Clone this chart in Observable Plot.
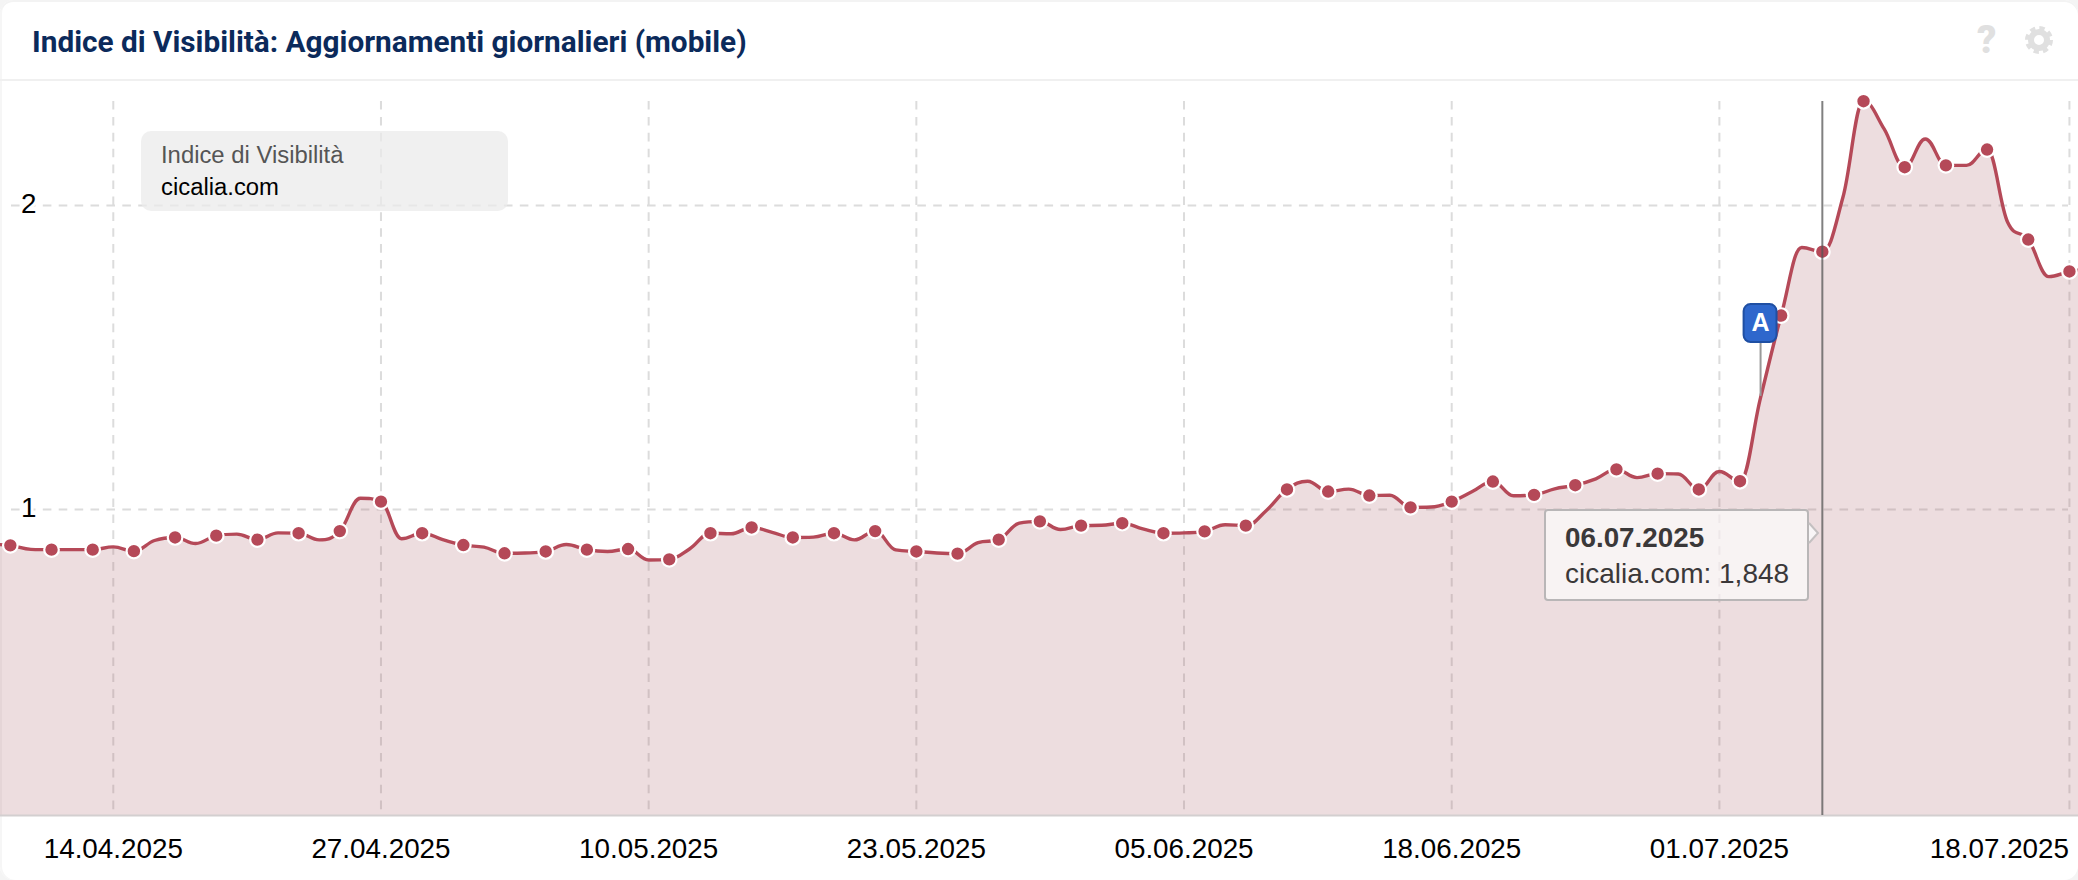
<!DOCTYPE html>
<html lang="it">
<head>
<meta charset="utf-8">
<title>Indice di Visibilità</title>
<script src="https://cdn.jsdelivr.net/npm/d3@7"></script>
<script src="https://cdn.jsdelivr.net/npm/@observablehq/plot@0.6"></script>
<style>
  html, body { margin: 0; padding: 0; background: #f4f4f4; }
  #panel { position: relative; width: 2078px; height: 880px; background: #fff; border-radius: 14px; overflow: hidden; box-shadow: inset 0 2px 0 #f3f3f3, inset 2px 0 0 #f6f6f6; font-family: "Liberation Sans", Arial, sans-serif; }
  #header { position: absolute; left: 0; top: 0; width: 100%; height: 81px; box-sizing: border-box; border-bottom: 2px solid #f0f0f0; }
  #title { position: absolute; left: 32px; top: 25px; margin: 0; font: 700 29.75px/33px Roboto, sans-serif; color: #0b2a5b; white-space: nowrap; }
  #help { position: absolute; left: 1977px; top: 21px; font: 900 38px/38px Roboto, sans-serif; color: #e0e0e0; }
  #gear { position: absolute; left: 2024px; top: 25px; }
  #chart { position: absolute; left: 0; top: 81px; }
  #chart svg { display: block; }
  #legend { position: absolute; left: 141px; top: 131px; width: 367px; height: 80px; border-radius: 10px; background: rgba(235,235,235,.75); font-size: 23.85px; }
  #legend div { position: absolute; left: 20px; white-space: nowrap; }
  #tooltip { position: absolute; left: 1544px; top: 509px; width: 265px; height: 92px; box-sizing: border-box; border: 2px solid #b9b6b7; border-radius: 4px; background: rgba(255,255,255,.63); color: #3b3839; font-size: 28px; }
  #tooltip div { position: absolute; left: 19px; white-space: nowrap; }
  #arrow { position: absolute; left: 1807px; top: 521px; }
</style>
</head>
<body>
<div id="panel">
  <div id="header">
    <h1 id="title">Indice di Visibilità: Aggiornamenti giornalieri (mobile)</h1>
    <div id="help">?</div>
    <svg id="gear" width="30" height="30" viewBox="0 0 30 30"><circle cx="15" cy="15" r="8" fill="none" stroke="#e0e0e0" stroke-width="6"/><circle cx="15" cy="15" r="11.8" fill="none" stroke="#e0e0e0" stroke-width="4.4" stroke-dasharray="5.2 4.07"/></svg>
  </div>
  <div id="chart"></div>
  <div id="legend"><div style="top:9.5px;color:#555">Indice di Visibilità</div><div style="top:41.5px;color:#000">cicalia.com</div></div>
  <div id="tooltip"><div style="top:11px;font-weight:700;font-size:27.8px">06.07.2025</div><div style="top:47px">cicalia.com: 1,848</div></div>
  <svg id="arrow" width="16" height="26" viewBox="0 0 16 26"><polygon points="2,2 11,12 2,22" fill="#f8f5f6"/><polyline points="2,2 11,12 2,22" fill="none" stroke="#c4c0c1" stroke-width="2"/></svg>
</div>
<script>
const startDate = Date.UTC(2025, 3, 8);
const visibility = [
  0.885, 0.882, 0.869, 0.868, 0.868, 0.868, 0.877, 0.863, 0.898, 0.908, 0.888, 0.914, 0.919,
  0.901, 0.923, 0.922, 0.900, 0.929, 1.037, 1.026, 0.904, 0.922, 0.901, 0.883, 0.876, 0.856,
  0.857, 0.862, 0.885, 0.868, 0.862, 0.870, 0.834, 0.836, 0.871, 0.922, 0.920, 0.941, 0.925,
  0.908, 0.909, 0.922, 0.900, 0.929, 0.867, 0.862, 0.857, 0.855, 0.891, 0.901, 0.955, 0.961,
  0.934, 0.947, 0.948, 0.955, 0.936, 0.922, 0.923, 0.928, 0.950, 0.947, 0.997, 1.066, 1.093,
  1.059, 1.067, 1.046, 1.047, 1.007, 1.008, 1.026, 1.059, 1.092, 1.045, 1.048, 1.068, 1.080,
  1.101, 1.132, 1.105, 1.118, 1.117, 1.066, 1.125, 1.093, 1.368, 1.638, 1.862, 1.848, 2.027,
  2.343, 2.252, 2.126, 2.219, 2.132, 2.132, 2.184, 1.945, 1.888, 1.766, 1.783, 1.790
];
const xTickLabels = ["14.04.2025", "27.04.2025", "10.05.2025", "23.05.2025", "05.06.2025", "18.06.2025", "01.07.2025", "18.07.2025"];
const yTicks = [1, 2];
const hoverDate = "06.07.2025";
const flagDate = "03.07.2025";
const flagLabel = "A";
const flagStemValue = 1.372;
const flagBox = [1.549, 1.674];
const flagHalfDays = 0.8;
const plotTopValue = 2.4079;
const baselineValue = -0.00658;
const xDomain = [new Date("2025-04-08T12:32:00Z"), new Date("2025-07-18T10:34:00Z")];

const parseDay = d3.utcParse("%d.%m.%Y");
const formatDay = d3.utcFormat("%d.%m.%Y");
const series = visibility.map((value, i) => ({ date: d3.utcDay.offset(new Date(startDate), i), value, i }));
const markers = series.filter(d => d.i % 2 === 1);
const xTicks = xTickLabels.map(parseDay);
const hour = 3600000;
const flagCenter = parseDay(flagDate);

// Spline with longer handles, flattened so it does not run past neighbouring points.
function clampedSpline(context) {
  let area = NaN, pts = [];
  return {
    areaStart() { area = 0; },
    areaEnd() { area = NaN; },
    lineStart() { pts = []; },
    point(x, y) { pts.push([+x, +y]); },
    lineEnd() {
      const k = 1.5, den = 2.5;
      let prevRight = null;
      pts.forEach(([x, y], i) => {
        const last = pts[i - 1], next = pts[i + 1];
        let lx = x, ly = y, rx = x, ry = y;
        if (last && next) {
          lx = (k * x + last[0]) / den; ly = (k * y + last[1]) / den;
          rx = (k * x + next[0]) / den; ry = (k * y + next[1]) / den;
          const c = rx !== lx ? ((ry - ly) * (rx - x)) / (rx - lx) + y - ry : 0;
          ly += c; ry += c;
          if (ly > last[1] && ly > y) { ly = Math.max(last[1], y); ry = 2 * y - ly; }
          else if (ly < last[1] && ly < y) { ly = Math.min(last[1], y); ry = 2 * y - ly; }
          if (ry > next[1] && ry > y) { ry = Math.max(next[1], y); ly = 2 * y - ry; }
          else if (ry < next[1] && ry < y) { ry = Math.min(next[1], y); ly = 2 * y - ry; }
        }
        if (i === 0) {
          if (area === 1) context.lineTo(x, y); else context.moveTo(x, y);
        } else {
          context.bezierCurveTo(prevRight[0], prevRight[1], lx, ly, x, y);
        }
        prevRight = [rx, ry];
      });
      if (area === 1) context.closePath();
      area = area === 0 ? 1 : area;
    }
  };
}

const lineColor = "#b54958";
const gridStyle = { stroke: "#dcdcdc", strokeWidth: 2, strokeDasharray: "8.6 7.3" };
const tickFont = { fontSize: 27.8, fontFamily: "Liberation Sans, Arial, sans-serif", fill: "#000" };

const chart = Plot.plot({
  width: 2078,
  height: 799,
  marginTop: 0,
  marginRight: 0,
  marginBottom: 65,
  marginLeft: 0,
  style: { background: "transparent", overflow: "visible" },
  x: { type: "utc", domain: xDomain },
  y: { domain: [baselineValue, plotTopValue] },
  marks: [
    Plot.ruleY(yTicks, { ...gridStyle, insetLeft: 11, insetRight: 10 }),
    Plot.ruleX(xTicks, { ...gridStyle, insetTop: 20 }),
    Plot.areaY(series, { x: "date", y1: baselineValue, y2: "value", curve: clampedSpline, fill: "rgb(165,85,95)", fillOpacity: 0.2, clip: true }),
    Plot.ruleY([baselineValue], { stroke: "#d3cfd0", strokeWidth: 2 }),
    Plot.lineY(series, { x: "date", y: "value", curve: clampedSpline, stroke: lineColor, strokeWidth: 3.4, clip: true }),
    Plot.dot(markers, { x: "date", y: "value", r: 7.3, fill: lineColor, stroke: "#fff", strokeWidth: 2.2 }),
    Plot.ruleX([parseDay(hoverDate)], { insetTop: 20, stroke: "#555", strokeOpacity: 0.75, strokeWidth: 2 }),
    Plot.ruleX([flagCenter], { y1: flagBox[0], y2: flagStemValue, stroke: "#999", strokeWidth: 2 }),
    Plot.rect([flagCenter], {
      x1: d => new Date(+d - flagHalfDays * 24 * hour),
      x2: d => new Date(+d + flagHalfDays * 24 * hour),
      y1: flagBox[0], y2: flagBox[1], rx: 7,
      fill: "#2e67cc", stroke: "#1f4fa3", strokeWidth: 2
    }),
    Plot.text([flagCenter], {
      x: d => d, y: (flagBox[0] + flagBox[1]) / 2, dy: -1, text: () => flagLabel,
      fill: "#fff", fontWeight: 700, fontSize: 25, fontFamily: "Liberation Sans, Arial, sans-serif"
    }),
    Plot.axisX({
      ticks: xTicks.slice(0, -1), tickFormat: formatDay, tickSize: 0, tickPadding: 0, dy: 23, label: null, ...tickFont
    }),
    Plot.axisX({
      ticks: xTicks.slice(-1), tickFormat: formatDay, tickSize: 0, tickPadding: 0, dy: 23, dx: -70, label: null, ...tickFont
    }),
    Plot.axisY({
      ticks: yTicks, tickFormat: d => d, tickSize: 0, tickPadding: 0, dx: 36, dy: -1, label: null,
      textStroke: "#fff", textStrokeWidth: 6, ...tickFont
    })
  ]
});
document.getElementById("chart").appendChild(chart);
</script>
</body>
</html>
